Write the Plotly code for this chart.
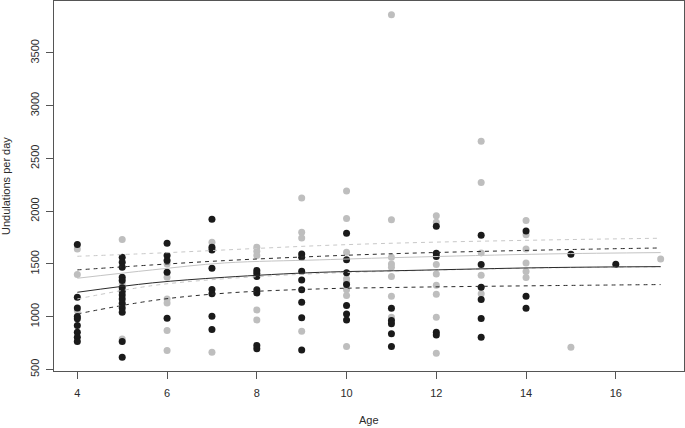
import plotly.graph_objects as go

# ---- data: black group (age -> undulations per day)
black_age = ([4]*9 + [5]*14 + [6]*5 + [7]*8 + [8]*7 + [9]*8 + [10]*7 + [11]*5
             + [12]*5 + [13]*6 + [14]*3 + [15] + [16])
black_val = [1684, 1185, 1084, 1002, 980, 917, 853, 806, 765,
             1563, 1516, 1469, 1374, 1343, 1274, 1241, 1207, 1128, 1084, 1043, 765, 617, 1169,
             1696, 1580, 1532, 1421, 986,
             1923, 1658, 1633, 1459, 1258, 1217, 1005, 879,
             1438, 1412, 1381, 1255, 1226, 727, 696,
             1595, 1563, 1431, 1349, 1255, 1137, 990, 686,
             1791, 1539, 1416, 1305, 1106, 1027, 970,
             1080, 964, 933, 838, 718,
             1857, 1601, 1570, 853, 828,
             1772, 1494, 1279, 1163, 983, 806,
             1813, 1194, 1080,
             1592,
             1497]

# ---- data: grey group
grey_age = ([4]*3 + [5]*3 + [6]*6 + [7]*2 + [8]*5 + [9]*4 + [10]*8 + [11]*8
            + [12]*8 + [13]*5 + [14]*6 + [15] + [17])
grey_val = [1643, 1400, 1059,
            1731, 1311, 790,
            1501, 1374, 1169, 1131, 869, 680,
            1705, 664,
            1658, 1620, 1580, 1065, 970,
            2126, 1801, 1747, 863,
            2192, 1930, 1611, 1359, 1327, 1255, 1201, 718,
            3862, 1920, 1563, 1501, 1469, 1381, 1194, 995,
            1958, 1895, 1494, 1406, 1298, 1213, 995, 654,
            2662, 2271, 1605, 1393, 1217,
            1911, 1778, 1643, 1510, 1428, 1371,
            711,
            1548]

# ---- fitted curves
curve_age = [4, 5.67, 7.28, 9.4, 11.3, 14.5, 17]
black_fit = [1232, 1321, 1374, 1421, 1438, 1466, 1475]
black_upper = [1444, 1491, 1532, 1573, 1601, 1633, 1652]
black_lower = [1027, 1153, 1223, 1264, 1279, 1295, 1305]
grey_fit = [1365, 1444, 1510, 1539, 1563, 1595, 1608]
grey_upper = [1573, 1601, 1633, 1674, 1700, 1728, 1744]
grey_lower = [1169, 1295, 1360, 1410, 1435, 1463, 1473]

x_ticks = [4, 6, 8, 10, 12, 14, 16]
y_ticks = [500, 1000, 1500, 2000, 2500, 3000, 3500]

GREY = "#bebebe"
BLACK = "#1a1a1a"
LINE_BLACK = "#2a2a2a"

fig = go.Figure()
fig.add_trace(go.Scatter(x=grey_age, y=grey_val, mode="markers",
                         marker=dict(color=GREY, size=7, line=dict(width=0)),
                         showlegend=False, hoverinfo="skip"))
fig.add_trace(go.Scatter(x=black_age, y=black_val, mode="markers",
                         marker=dict(color=BLACK, size=7, line=dict(width=0)),
                         showlegend=False, hoverinfo="skip"))

def add_line(y, color, dash):
    fig.add_trace(go.Scatter(x=curve_age, y=y, mode="lines",
                             line=dict(color=color, width=1, dash=dash, shape="spline", smoothing=1.0),
                             showlegend=False, hoverinfo="skip"))

add_line(grey_upper, "#c8c8c8", "4px,4px")
add_line(grey_lower, "#c8c8c8", "4px,4px")
add_line(grey_fit, "#c4c4c4", "solid")
add_line(black_upper, LINE_BLACK, "4px,4px")
add_line(black_lower, LINE_BLACK, "4px,4px")
add_line(black_fit, LINE_BLACK, "solid")

font = dict(family="Liberation Sans, Arial, sans-serif", size=11, color="#2b2b2b")

fig.update_layout(
    width=685, height=428,
    margin=dict(l=54, r=1, t=1, b=57),
    paper_bgcolor="white", plot_bgcolor="white",
    font=font,
    xaxis=dict(range=[3.48, 17.52], tickvals=x_ticks, ticktext=[str(v) for v in x_ticks],
               showgrid=False, zeroline=False, showline=True, mirror=True,
               linecolor="#555555", linewidth=1, ticks="outside", ticklen=7,
               tickcolor="#555555", tickfont=font, automargin=False,
               ticklabelstandoff=5),
    yaxis=dict(range=[486, 3992], tickvals=y_ticks, ticktext=[str(v) for v in y_ticks],
               showgrid=False, zeroline=False, showline=True, mirror=True,
               linecolor="#555555", linewidth=1, ticks="outside", ticklen=7,
               tickcolor="#555555", tickangle=-90, tickfont=font, automargin=False,
               ticklabelstandoff=3),
    annotations=[
        dict(text="Age", xref="paper", yref="paper", x=0.5, y=-0.132,
             xanchor="center", yanchor="middle", showarrow=False, font=font),
        dict(text="Undulations per day", xref="paper", yref="paper", x=-0.0762, y=0.5,
             xanchor="center", yanchor="middle", textangle=-90, showarrow=False, font=font),
    ],
)

fig.write_html("out.html",
               config={"displayModeBar": False},
               post_script="document.body.style.margin='0';document.body.style.padding='0';")
